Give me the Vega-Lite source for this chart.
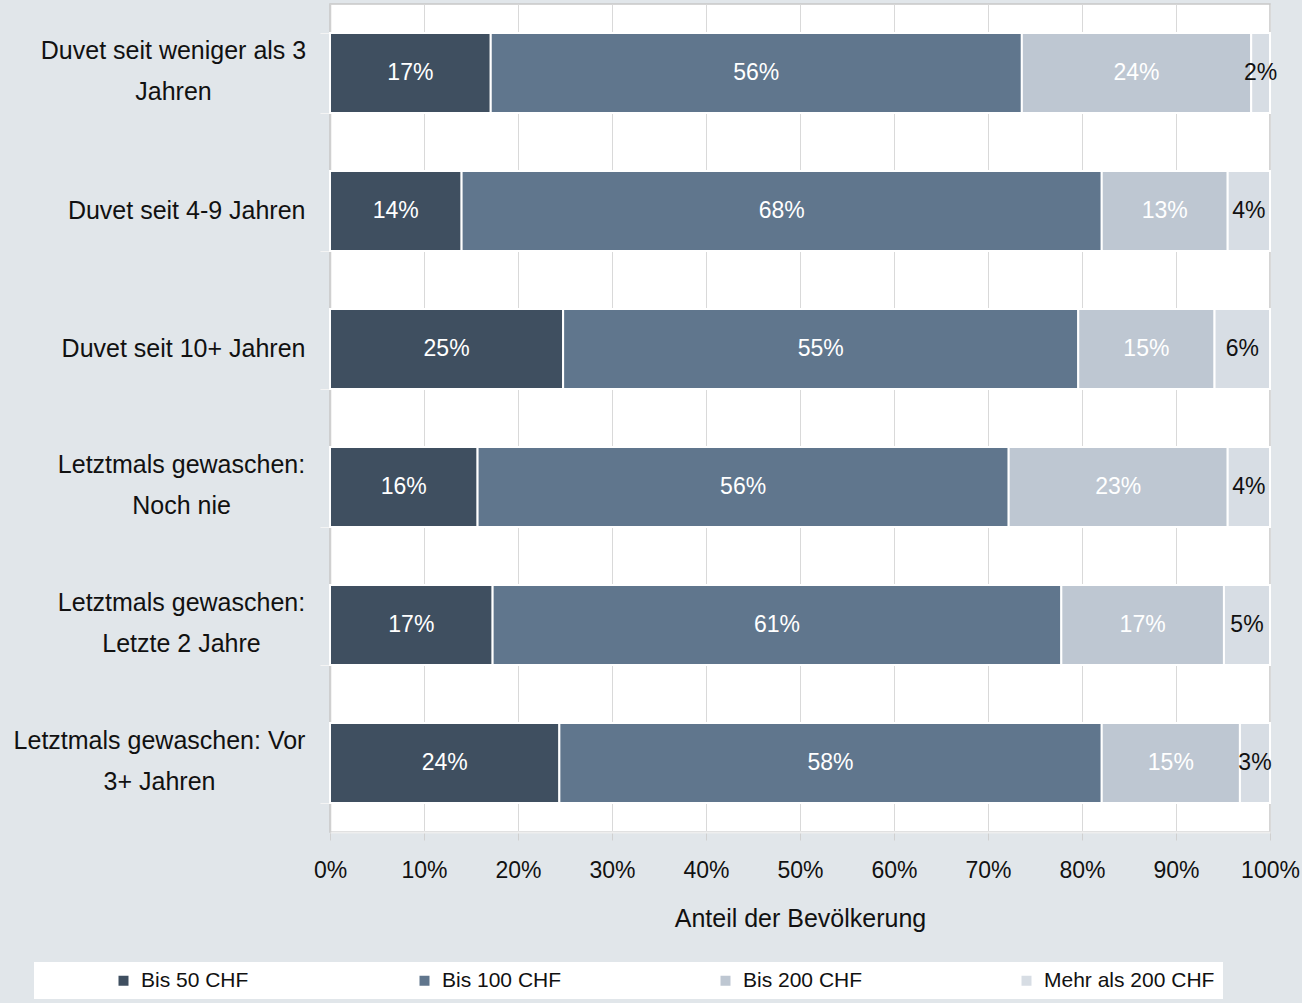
{
  "$schema": "https://vega.github.io/schema/vega-lite/v6.json",
  "width": 940,
  "height": 828,
  "autosize": {"type": "none"},
  "padding": {"left": 330, "top": 4, "right": 32, "bottom": 171},
  "background": "#e1e6ea",
  "config": {
    "font": "Liberation Sans",
    "view": {"stroke": "#c8c8c8", "fill": "white", "strokeWidth": 1.5},
    "axis": {"labelFont": "Liberation Sans", "titleFont": "Liberation Sans"},
    "legend": {"labelFont": "Liberation Sans"}
  },
  "data": {
    "values": [
      {"cat": "Duvet seit weniger als 3|Jahren", "seg": "Bis 50 CHF", "k": 1, "value": 0.171, "label": "17%"},
      {"cat": "Duvet seit weniger als 3|Jahren", "seg": "Bis 100 CHF", "k": 2, "value": 0.565, "label": "56%"},
      {"cat": "Duvet seit weniger als 3|Jahren", "seg": "Bis 200 CHF", "k": 3, "value": 0.244, "label": "24%"},
      {"cat": "Duvet seit weniger als 3|Jahren", "seg": "Mehr als 200 CHF", "k": 4, "value": 0.020, "label": "2%"},
      {"cat": "Duvet seit 4-9 Jahren", "seg": "Bis 50 CHF", "k": 1, "value": 0.140, "label": "14%"},
      {"cat": "Duvet seit 4-9 Jahren", "seg": "Bis 100 CHF", "k": 2, "value": 0.681, "label": "68%"},
      {"cat": "Duvet seit 4-9 Jahren", "seg": "Bis 200 CHF", "k": 3, "value": 0.134, "label": "13%"},
      {"cat": "Duvet seit 4-9 Jahren", "seg": "Mehr als 200 CHF", "k": 4, "value": 0.045, "label": "4%"},
      {"cat": "Duvet seit 10+ Jahren", "seg": "Bis 50 CHF", "k": 1, "value": 0.248, "label": "25%"},
      {"cat": "Duvet seit 10+ Jahren", "seg": "Bis 100 CHF", "k": 2, "value": 0.548, "label": "55%"},
      {"cat": "Duvet seit 10+ Jahren", "seg": "Bis 200 CHF", "k": 3, "value": 0.145, "label": "15%"},
      {"cat": "Duvet seit 10+ Jahren", "seg": "Mehr als 200 CHF", "k": 4, "value": 0.059, "label": "6%"},
      {"cat": "Letztmals gewaschen:|Noch nie", "seg": "Bis 50 CHF", "k": 1, "value": 0.157, "label": "16%"},
      {"cat": "Letztmals gewaschen:|Noch nie", "seg": "Bis 100 CHF", "k": 2, "value": 0.565, "label": "56%"},
      {"cat": "Letztmals gewaschen:|Noch nie", "seg": "Bis 200 CHF", "k": 3, "value": 0.233, "label": "23%"},
      {"cat": "Letztmals gewaschen:|Noch nie", "seg": "Mehr als 200 CHF", "k": 4, "value": 0.045, "label": "4%"},
      {"cat": "Letztmals gewaschen:|Letzte 2 Jahre", "seg": "Bis 50 CHF", "k": 1, "value": 0.173, "label": "17%"},
      {"cat": "Letztmals gewaschen:|Letzte 2 Jahre", "seg": "Bis 100 CHF", "k": 2, "value": 0.605, "label": "61%"},
      {"cat": "Letztmals gewaschen:|Letzte 2 Jahre", "seg": "Bis 200 CHF", "k": 3, "value": 0.173, "label": "17%"},
      {"cat": "Letztmals gewaschen:|Letzte 2 Jahre", "seg": "Mehr als 200 CHF", "k": 4, "value": 0.049, "label": "5%"},
      {"cat": "Letztmals gewaschen: Vor|3+ Jahren", "seg": "Bis 50 CHF", "k": 1, "value": 0.244, "label": "24%"},
      {"cat": "Letztmals gewaschen: Vor|3+ Jahren", "seg": "Bis 100 CHF", "k": 2, "value": 0.577, "label": "58%"},
      {"cat": "Letztmals gewaschen: Vor|3+ Jahren", "seg": "Bis 200 CHF", "k": 3, "value": 0.147, "label": "15%"},
      {"cat": "Letztmals gewaschen: Vor|3+ Jahren", "seg": "Mehr als 200 CHF", "k": 4, "value": 0.032, "label": "3%"}
    ]
  },
  "transform": [
    {"stack": "value", "groupby": ["cat"], "sort": [{"field": "k", "order": "ascending"}], "as": ["v0", "v1"]}
  ],
  "encoding": {
    "y": {
      "field": "cat",
      "type": "nominal",
      "sort": null,
      "title": null,
      "scale": {"paddingInner": 0.42, "paddingOuter": 0.21},
      "axis": {
        "labelExpr": "isString(datum.value) ? split(datum.value, '|') : ''",
        "labelFontSize": 25,
        "labelColor": "#111111",
        "labelLineHeight": 41,
        "labelLimit": 400,
        "labelAlign": {"condition": {"test": "isString(datum.value) && indexof(datum.value, '|') >= 0", "value": "center"}, "value": "right"},
        "labelPadding": {
          "condition": [
            {"test": "datum.value === 'Duvet seit weniger als 3|Jahren'", "value": 147},
            {"test": "datum.value === 'Letztmals gewaschen: Vor|3+ Jahren'", "value": 161},
            {"test": "isString(datum.value) && indexof(datum.value, '|') >= 0", "value": 139}
          ],
          "value": 15
        },
        "labelOffset": {
          "condition": {"test": "isString(datum.value) && indexof(datum.value, '|') >= 0", "value": -23},
          "value": -1
        },
        "tickBand": "extent",
        "tickSize": 10,
        "tickColor": "#f4f4f4",
        "domainColor": "#d0d0d0",
        "domainWidth": 1.5,
        "grid": false
      }
    }
  },
  "layer": [
    {
      "mark": {"type": "bar", "stroke": "white", "strokeWidth": 2},
      "encoding": {
        "x": {
          "field": "v0",
          "type": "quantitative",
          "scale": {"domain": [0, 1], "nice": false},
          "title": "Anteil der Bevölkerung",
          "axis": {
            "values": [0, 0.1, 0.2, 0.3, 0.4, 0.5, 0.6, 0.7, 0.8, 0.9, 1],
            "format": ".0%",
            "labelFontSize": 23,
            "labelColor": "#111111",
            "labelPadding": 19,
            "labelFlush": false,
            "tickSize": 8,
            "tickColor": "#d0d0d0",
            "domainColor": "#eeeeee",
            "domainWidth": 2,
            "gridColor": "#d9d9d9",
            "gridWidth": 1,
            "titleFontSize": 25,
            "titleFontWeight": "normal",
            "titleColor": "#111111",
            "titlePadding": 24
          }
        },
        "x2": {"field": "v1"},
        "color": {
          "field": "seg",
          "type": "nominal",
          "title": null,
          "scale": {
            "domain": ["Bis 50 CHF", "Bis 100 CHF", "Bis 200 CHF", "Mehr als 200 CHF"],
            "range": ["#3f4f60", "#60768d", "#bec7d2", "#d7dde4"]
          },
          "legend": {
            "orient": "none",
            "legendX": -296,
            "legendY": 958,
            "direction": "horizontal",
            "columns": 4,
            "gridAlign": "all",
            "fillColor": "white",
            "padding": 8,
            "symbolType": "square",
            "symbolSize": 100,
            "symbolStrokeWidth": 0,
            "symbolOffset": 71,
            "labelOffset": 7,
            "columnPadding": 31,
            "labelFontSize": 21,
            "labelColor": "#111111",
            "labelLimit": 300
          }
        }
      }
    },
    {
      "transform": [
        {"fold": ["v0", "v1"], "as": ["edge", "pos"]},
        {"aggregate": [{"op": "mean", "field": "pos", "as": "mid"}], "groupby": ["cat", "seg", "label"]}
      ],
      "mark": {"type": "text", "fontSize": 23, "font": "Liberation Sans", "baseline": "middle", "align": "center"},
      "encoding": {
        "x": {"field": "mid", "type": "quantitative"},
        "text": {"field": "label"},
        "color": {
          "condition": {"test": "datum.seg === 'Mehr als 200 CHF'", "value": "#111111"},
          "value": "#ffffff"
        }
      }
    }
  ]
}
